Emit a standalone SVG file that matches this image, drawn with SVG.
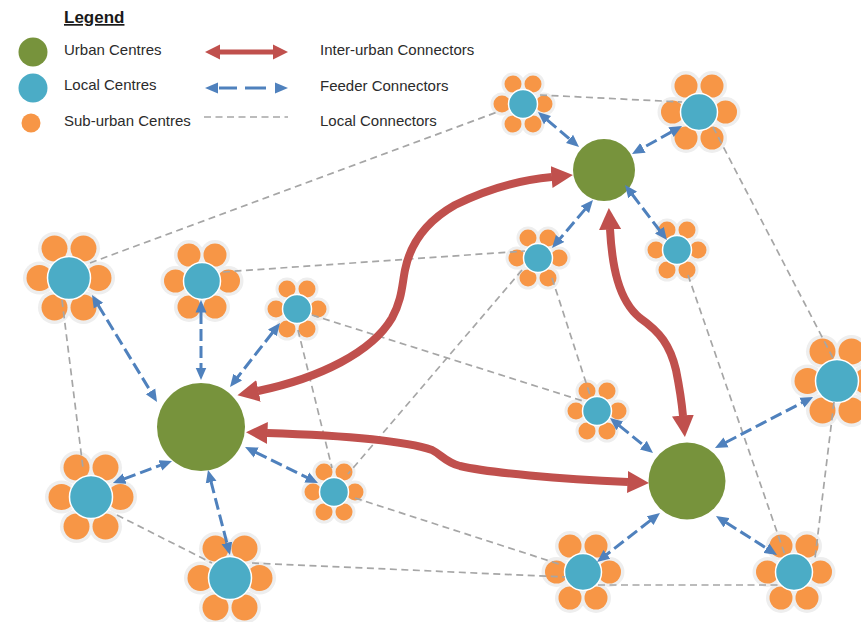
<svg xmlns="http://www.w3.org/2000/svg" xmlns:xlink="http://www.w3.org/1999/xlink" width="861" height="622" viewBox="0 0 861 622">
<style>
.t{font-family:"Liberation Sans",Arial,sans-serif;font-size:15px;fill:#2b2b2b}
.h{font-family:"Liberation Sans",Arial,sans-serif;font-size:17px;font-weight:bold;fill:#1a1a1a;text-decoration:underline}
.halo{fill:#eeeeee}
.pet{fill:#F79646}
.ctr{fill:#4BACC6;stroke:#ffffff;stroke-width:1.5}
.urb{fill:#77933C}
.loc{stroke:#A6A6A6;stroke-width:1.7;stroke-dasharray:7 4.5;fill:none}
.fd{stroke:#4F81BD;stroke-width:3;stroke-dasharray:12 5;fill:none;marker-start:url(#bh);marker-end:url(#bh)}
.ir{stroke:#C0504D;stroke-width:8;fill:none;marker-start:url(#rh);marker-end:url(#rh)}
</style>
<defs>
<marker id="bh" viewBox="0 -6 13 12" refX="0.5" refY="0" markerWidth="13" markerHeight="12" markerUnits="userSpaceOnUse" orient="auto-start-reverse"><path d="M0,-5.5 L12.5,0 L0,5.5 z" fill="#4F81BD"/></marker>
<marker id="rh" viewBox="0 -11 22 22" refX="0.5" refY="0" markerWidth="22" markerHeight="22" markerUnits="userSpaceOnUse" orient="auto-start-reverse"><path d="M0,-11 L21.5,0 L0,11 z" fill="#C0504D"/></marker>
<g id="flL">
<circle class="halo" cx="-14.5" cy="-29.5" r="16.5"/><circle class="halo" cx="14.5" cy="-29.5" r="16.5"/><circle class="halo" cx="-29.5" cy="0" r="16.5"/><circle class="halo" cx="29.5" cy="0" r="16.5"/><circle class="halo" cx="-14.5" cy="29.5" r="16.5"/><circle class="halo" cx="14.5" cy="29.5" r="16.5"/>
<circle class="pet" cx="-14.5" cy="-29.5" r="13"/><circle class="pet" cx="14.5" cy="-29.5" r="13"/><circle class="pet" cx="-29.5" cy="0" r="13"/><circle class="pet" cx="29.5" cy="0" r="13"/><circle class="pet" cx="-14.5" cy="29.5" r="13"/><circle class="pet" cx="14.5" cy="29.5" r="13"/>
<circle class="ctr" cx="0" cy="0" r="21.5"/>
</g>
<g id="flM">
<circle class="halo" cx="-13" cy="-26" r="15"/><circle class="halo" cx="13" cy="-26" r="15"/><circle class="halo" cx="-26.5" cy="0" r="15"/><circle class="halo" cx="26.5" cy="0" r="15"/><circle class="halo" cx="-13" cy="26" r="15"/><circle class="halo" cx="13" cy="26" r="15"/>
<circle class="pet" cx="-13" cy="-26" r="11.5"/><circle class="pet" cx="13" cy="-26" r="11.5"/><circle class="pet" cx="-26.5" cy="0" r="11.5"/><circle class="pet" cx="26.5" cy="0" r="11.5"/><circle class="pet" cx="-13" cy="26" r="11.5"/><circle class="pet" cx="13" cy="26" r="11.5"/>
<circle class="ctr" cx="0" cy="0" r="18.5"/>
</g>
<g id="flS">
<circle class="halo" cx="-10" cy="-20" r="11.5"/><circle class="halo" cx="10" cy="-20" r="11.5"/><circle class="halo" cx="-21" cy="0" r="11.5"/><circle class="halo" cx="21" cy="0" r="11.5"/><circle class="halo" cx="-10" cy="20" r="11.5"/><circle class="halo" cx="10" cy="20" r="11.5"/>
<circle class="pet" cx="-10" cy="-20" r="8.5"/><circle class="pet" cx="10" cy="-20" r="8.5"/><circle class="pet" cx="-21" cy="0" r="8.5"/><circle class="pet" cx="21" cy="0" r="8.5"/><circle class="pet" cx="-10" cy="20" r="8.5"/><circle class="pet" cx="10" cy="20" r="8.5"/>
<circle class="ctr" cx="0" cy="0" r="14.5"/>
</g>
</defs>
<rect width="861" height="622" fill="#ffffff"/>

<g id="legend">
<text class="h" x="64" y="23">Legend</text>
<circle class="urb" cx="33" cy="52" r="14.5"/>
<circle fill="#4BACC6" cx="33" cy="88" r="14.5"/>
<circle class="pet" cx="31" cy="123" r="9.5"/>
<text class="t" x="64" y="55">Urban Centres</text>
<text class="t" x="64" y="90">Local Centres</text>
<text class="t" x="64" y="126">Sub-urban Centres</text>
<line x1="219" y1="52" x2="274" y2="52" stroke="#C0504D" stroke-width="5"/>
<polygon points="205,52 220,44.5 220,59.5" fill="#C0504D"/>
<polygon points="288,52 273,44.5 273,59.5" fill="#C0504D"/>
<path d="M219,88 H237 M245,88 H266" stroke="#4F81BD" stroke-width="3" fill="none"/>
<polygon points="205,88 218,82.5 218,93.5" fill="#4F81BD"/>
<polygon points="288,88 275,82.5 275,93.5" fill="#4F81BD"/>
<line class="loc" x1="204" y1="117" x2="288" y2="117"/>
<text class="t" x="320" y="55">Inter-urban Connectors</text>
<text class="t" x="320" y="91">Feeder Connectors</text>
<text class="t" x="320" y="126">Local Connectors</text>
</g>

<g id="U1"><circle class="urb" cx="604" cy="170" r="31"/></g>
<g id="U2"><circle class="urb" cx="201" cy="427" r="44"/></g>
<g id="U3"><circle class="urb" cx="687" cy="481" r="38.5"/></g>

<g id="F1"><use xlink:href="#flS" href="#flS" x="523" y="104"/></g>
<g id="F2"><use xlink:href="#flM" href="#flM" x="699" y="112"/></g>
<g id="F3"><use xlink:href="#flL" href="#flL" x="69" y="278"/></g>
<g id="F4"><use xlink:href="#flM" href="#flM" x="202" y="281"/></g>
<g id="F5"><use xlink:href="#flS" href="#flS" x="297" y="309"/></g>
<g id="F6"><use xlink:href="#flS" href="#flS" x="538" y="258"/></g>
<g id="F7"><use xlink:href="#flS" href="#flS" x="677" y="250"/></g>
<g id="F8"><use xlink:href="#flS" href="#flS" x="597" y="411"/></g>
<g id="F9"><use xlink:href="#flL" href="#flL" x="837" y="381"/></g>
<g id="F10"><use xlink:href="#flL" href="#flL" x="91" y="497"/></g>
<g id="F11"><use xlink:href="#flS" href="#flS" x="334" y="492"/></g>
<g id="F12"><use xlink:href="#flL" href="#flL" x="230" y="578"/></g>
<g id="F13"><use xlink:href="#flM" href="#flM" x="583" y="572"/></g>
<g id="F14"><use xlink:href="#flM" href="#flM" x="794" y="572"/></g>

<g id="connectors">
<line class="loc" x1="90" y1="263" x2="500" y2="111"/>
<line class="loc" x1="540" y1="95" x2="682" y2="102"/>
<line class="loc" x1="713" y1="127" x2="834" y2="360"/>
<line class="loc" x1="62" y1="300" x2="83" y2="468"/>
<line class="loc" x1="117" y1="515" x2="212" y2="563"/>
<line class="loc" x1="252" y1="563" x2="565" y2="577"/>
<line class="loc" x1="355" y1="498" x2="562" y2="565"/>
<line class="loc" x1="598" y1="585" x2="778" y2="585"/>
<line class="loc" x1="834" y1="402" x2="815" y2="558"/>
<line class="loc" x1="688" y1="275" x2="785" y2="555"/>
<line class="loc" x1="223" y1="272" x2="525" y2="251"/>
<line class="loc" x1="552" y1="278" x2="590" y2="395"/>
<line class="loc" x1="522" y1="270" x2="348" y2="474"/>
<line class="loc" x1="312" y1="315" x2="583" y2="401"/>
<line class="loc" x1="298" y1="330" x2="332" y2="468"/>

<line class="fd" x1="547.1" y1="119.8" x2="569.9" y2="139.2"/>
<line class="fd" x1="671.5" y1="131.9" x2="642.5" y2="148.1"/>
<line class="fd" x1="632.3" y1="194.5" x2="659.7" y2="230.5"/>
<line class="fd" x1="585.2" y1="209.1" x2="559.8" y2="238.9"/>
<line class="fd" x1="98.2" y1="305.3" x2="150.8" y2="391.7"/>
<line class="fd" x1="201" y1="312" x2="201" y2="368"/>
<line class="fd" x1="272.6" y1="332.5" x2="237.4" y2="377.5"/>
<line class="fd" x1="124.2" y1="478.8" x2="160.8" y2="465.2"/>
<line class="fd" x1="255.8" y1="452.3" x2="307.2" y2="477.7"/>
<line class="fd" x1="211" y1="481.6" x2="227" y2="543.4"/>
<line class="fd" x1="619.3" y1="425.6" x2="643.7" y2="445.4"/>
<line class="fd" x1="725.6" y1="442.5" x2="802.4" y2="402.5"/>
<line class="fd" x1="650.5" y1="520.4" x2="606.5" y2="554.6"/>
<line class="fd" x1="726.1" y1="522.5" x2="766.9" y2="548.5"/>

<path class="ir" d="M258,391 C320,378 372,352 392,318 C402,300 402,285 405,270 C410,245 425,222 455,205 C485,190 520,180 552,177"/>
<path class="ir" d="M267,433 C330,435 400,439 432,450 C442,455 445,462 460,466 C490,473 560,479 628,482"/>
<path class="ir" d="M610,229 C612,265 618,300 640,318 C660,332 670,345 676,370 C680,390 682,405 683,416"/>
</g>
</svg>
